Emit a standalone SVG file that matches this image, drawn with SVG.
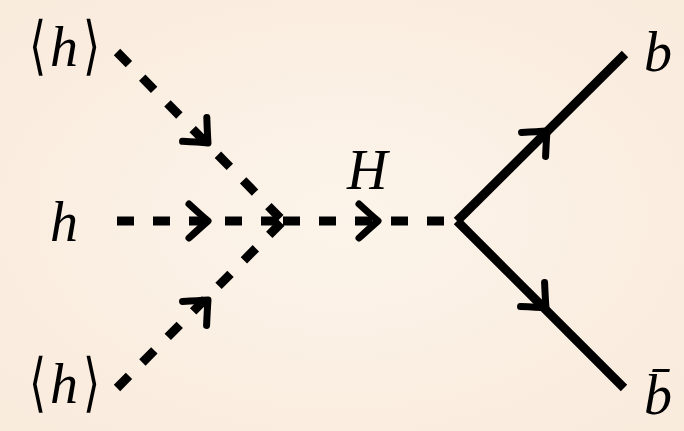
<svg xmlns="http://www.w3.org/2000/svg" xmlns:xlink="http://www.w3.org/1999/xlink" width="684" height="431" viewBox="0 0 684 431">
  <defs>
    <radialGradient id="bg" cx="50%" cy="50%" r="75%">
      <stop offset="0" stop-color="#fcf4ea"/>
      <stop offset="1" stop-color="#f9eadb"/>
    </radialGradient>
    <!-- arrowhead drawn pointing along +x with its tip at the origin -->
    <path id="head" d="M -19,-17 Q -7,-6 0,0 Q -7,6 -19,17"/>
  </defs>
  <style>
    .scalar { fill: none; stroke: #000; stroke-width: 9; stroke-dasharray: 17 19; }
    .fermion { fill: none; stroke: #000; stroke-width: 9; stroke-linecap: butt; }
    .head { fill: none; stroke: #000; stroke-width: 7; stroke-linecap: round; stroke-linejoin: round; }
    .lbl { font-family: "Liberation Serif", "DejaVu Serif", serif; font-style: italic; font-size: 56px; fill: #000; }
    .br { font-family: "DejaVu Sans", "DejaVu Serif", sans-serif; font-weight: 200; font-size: 44px; fill: #000; }
  </style>
  <rect width="684" height="431" fill="url(#bg)"/>

  <g id="connectors">
    <path class="scalar" d="M 117,52 L 283,221"/>
    <path class="scalar" d="M 117,221 L 283,221"/>
    <path class="scalar" d="M 117,388 L 283,221"/>
    <path class="scalar" d="M 283,221 L 457,221"/>
    <path class="fermion" d="M 457,221 L 625,54"/>
    <path class="fermion" d="M 457,221 L 624,388"/>
    <use class="head" xlink:href="#head" transform="translate(208,143) rotate(45.5)"/>
    <use class="head" xlink:href="#head" transform="translate(208,221)"/>
    <use class="head" xlink:href="#head" transform="translate(208,300) rotate(-45)"/>
    <use class="head" xlink:href="#head" transform="translate(378,221)"/>
    <use class="head" xlink:href="#head" transform="translate(547,131) rotate(-45)"/>
    <use class="head" xlink:href="#head" transform="translate(546,308) rotate(45)"/>
  </g>

  <g id="vev-top">
    <text class="br" transform="translate(29,67) scale(1,1.45)">⟨</text>
    <text class="lbl" x="50" y="66">h</text>
    <text class="br" transform="translate(83,67) scale(1,1.45)">⟩</text>
  </g>
  <g id="higgs-in">
    <text class="lbl" x="50" y="241">h</text>
  </g>
  <g id="vev-bottom">
    <text class="br" transform="translate(29,404) scale(1,1.45)">⟨</text>
    <text class="lbl" x="50" y="403">h</text>
    <text class="br" transform="translate(83,404) scale(1,1.45)">⟩</text>
  </g>
  <g id="higgs-H">
    <text class="lbl" x="347" y="189">H</text>
  </g>
  <g id="quark-b">
    <text class="lbl" x="644" y="71">b</text>
  </g>
  <g id="quark-bbar">
    <text class="lbl" x="644" y="414">b̄</text>
  </g>
</svg>
